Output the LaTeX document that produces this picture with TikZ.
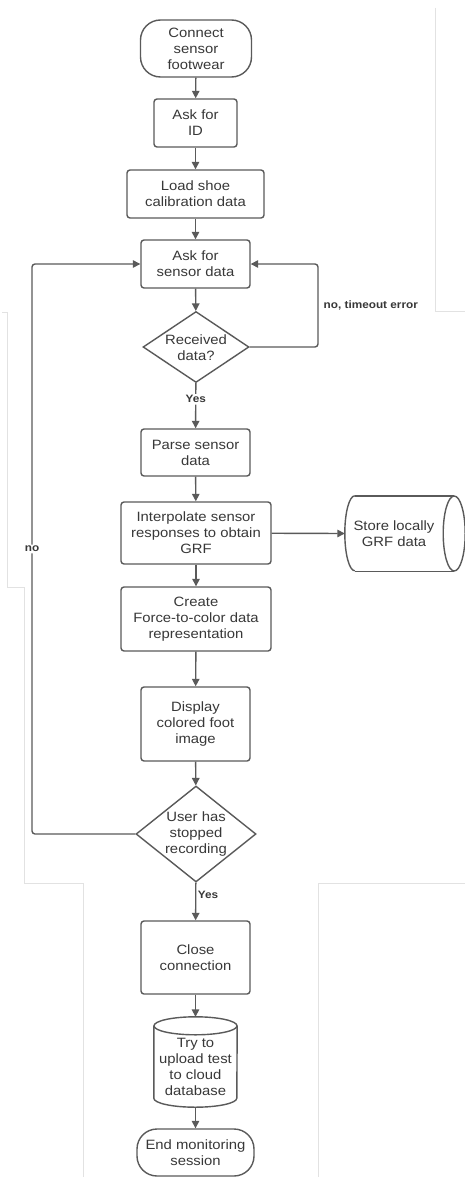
\documentclass[tikz,border=0pt]{standalone}
\usepackage{fontspec}
\newfontfamily\labfont{Liberation Sans}[FakeStretch=1.1]
\usetikzlibrary{arrows.meta,shapes.geometric}
\definecolor{linegray}{HTML}{5A5A5A}
\definecolor{textgray}{HTML}{383838}
\definecolor{faint}{HTML}{E2E2E2}
\begin{document}
\begin{tikzpicture}[x=1pt,y=-1pt,
  line/.style={draw=linegray, line width=1.4pt},
  arr/.style={line, rounded corners=3pt, -{Triangle[length=7.5pt,width=7.5pt]}},
  txt/.style={font=\labfont\fontsize{13.5}{16}\selectfont, text=textgray, align=center, inner sep=0pt},
  box/.style={txt, line, rounded corners=3pt},
  term/.style={txt, line, rounded corners=20pt},
  dia/.style={line, diamond, inner sep=0pt},
  plain/.style={txt, draw=none},
  note/.style={font=\labfont\fontsize{10.7}{12}\selectfont\bfseries, text=textgray, inner sep=1.5pt},
  faintline/.style={draw=faint, line width=0.8pt}
]
\fill[white] (0,0) rectangle (465,1177);
\useasboundingbox (0,0) rectangle (465,1177);

% faint panel borders
\draw[faintline] (435,8) -- (435,311) -- (465,311);
\draw[faintline] (2,312) -- (7,312) -- (7,587) -- (24,587) -- (24,883) -- (83,883) -- (83,1177);
\draw[faintline] (465,883) -- (318,883) -- (318,1177);

% nodes
\node[term, minimum width=111pt, minimum height=57pt] (start) at (196,48.5) {Connect\\sensor\\footwear};
\node[box, minimum width=83pt, minimum height=48pt] (id) at (195.5,123) {Ask for\\ID};
\node[box, minimum width=137pt, minimum height=48pt] (load) at (195.5,194) {Load shoe\\calibration data};
\node[box, minimum width=109pt, minimum height=48pt] (ask) at (195.5,264) {Ask for\\sensor data};
\node[dia, minimum width=106pt, minimum height=71pt] (recv) at (196,347) {};
\node[plain] (recvt) at (196,348) {Received\\data?};
\node[box, minimum width=109pt, minimum height=47pt] (parse) at (195.5,452.5) {Parse sensor\\data};
\node[box, minimum width=150pt, minimum height=62pt] (interp) at (196,533) {Interpolate sensor\\responses to obtain\\GRF};
\node[plain, minimum width=98pt, minimum height=75pt] (store) at (394,533.5) {Store locally\\GRF data};
\node[box, minimum width=150pt, minimum height=64pt] (create) at (196,619) {Create\\Force-to-color data\\representation};
\node[box, minimum width=109pt, minimum height=74pt] (disp) at (195.5,724) {Display\\colored foot\\image};
\node[dia, minimum width=120pt, minimum height=96pt] (user) at (196,834) {};
\node[plain] (usert) at (196,834) {User has\\stopped\\recording};
\node[box, minimum width=109pt, minimum height=73pt] (close) at (195.5,957.5) {Close\\connection};
\node[plain, minimum width=83pt, minimum height=81pt] (upload) at (195.5,1066.5) {Try to\\upload test\\to cloud\\database};
\node[term, minimum width=117pt, minimum height=47pt] (end) at (195.5,1152.5) {End monitoring\\session};

% cylinder outlines
\draw[line] ([xshift=10pt]store.north west) -- ([xshift=11pt]store.north east);
\draw[line] ([xshift=10pt]store.south west) -- ([xshift=11pt]store.south east);
\draw[line] ([xshift=10pt]store.north west) arc[start angle=90, end angle=270, x radius=10pt, y radius=37.5pt];
\draw[line] ([xshift=11pt]store.east) ellipse[x radius=11pt, y radius=37.5pt];

\draw[line] (upload.north) ellipse[x radius=41.5pt, y radius=9pt];
\draw[line] (upload.north west) -- ([yshift=9pt]upload.south west)
  arc[start angle=180, end angle=360, x radius=41.5pt, y radius=9pt] -- (upload.north east);

% connectors
\draw[arr] (start) -- (id);
\draw[arr] (id) -- (load);
\draw[arr] (load) -- (ask);
\draw[arr] (ask) -- (recv);
\draw[arr] (recv) -- node[note, fill=white, pos=0.36] (yes1) {Yes} (parse);
\draw[arr] (parse) -- (interp);
\draw[arr] (interp) -- (store.west);
\draw[arr] (interp) -- (create);
\draw[arr] (create) -- (disp);
\draw[arr] (disp) -- (user);
\draw[arr] (user) -- node[note, right, pos=0.33] (yes2) {Yes} (close);
\draw[arr] (close) -- ([yshift=9pt]upload.north);
\draw[arr] (upload) -- (end);

\coordinate (rloop) at (318,347);
\coordinate (lloop) at (32,834);
\draw[arr] (recv.east) -- (rloop) -- (rloop |- ask.east) -- (ask.east);
\node[note, anchor=west] (tmo) at (322,305) {no, timeout error};
\draw[arr] (user.west) -- (lloop) -- node[note, fill=white, pos=0.5] (nolab) {no} (lloop |- ask.west) -- (ask.west);
\end{tikzpicture}
\end{document}
